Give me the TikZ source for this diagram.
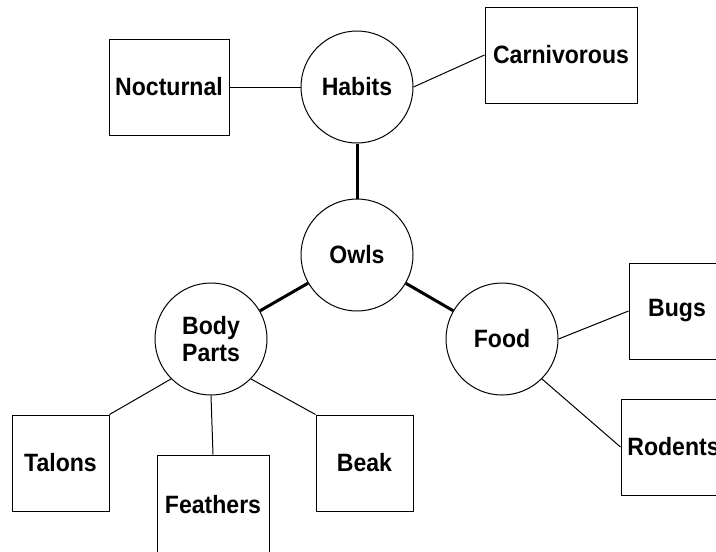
\documentclass[tikz,border=0pt]{standalone}
\usepackage{fontspec}
\setmainfont{Liberation Sans}[FakeStretch=0.92]
\begin{document}
\begin{tikzpicture}[x=0.75pt,y=-0.75pt,
  label font/.style={font=\bfseries\fontsize{18.8}{20.3}\selectfont},
  topic/.style={circle,draw,line width=0.75pt,minimum size=84pt,inner sep=0pt,align=center,label font},
  leaf/.style={rectangle,draw,line width=0.75pt,inner sep=0pt,minimum height=72pt,label font},
  link/.style={line width=0.75pt},
  trunk/.style={line width=2.25pt}]
\useasboundingbox (0,0) rectangle (716,551);
\clip (0,0) rectangle (716,551);

% central topic and its three branches
\node[topic] (owls)   at (357,255) {Owls};
\node[topic] (habits) at (357,87)  {Habits};
\node[topic] (body)   at (211,339) {Body\\Parts};
\node[topic] (food)   at (502,339) {Food};

% leaf boxes
\node[leaf,minimum width=90pt]   (nocturnal) at (169,87)    {Nocturnal};
\node[leaf,minimum width=114pt]  (carn)      at (561,55)    {Carnivorous};
\node[leaf,minimum width=72pt]   (bugs)      at (677,311)   {Bugs};
\node[leaf,minimum width=78.75pt](rodents)   at (673.5,447) {Rodents};
\node[leaf,minimum width=72.75pt](talons)    at (60.5,463)  {Talons};
\node[leaf,minimum width=84pt,minimum height=75pt] (feathers) at (213,505) {Feathers};
\node[leaf,minimum width=72.75pt](beak)      at (364.5,463) {Beak};

% connectors
\draw[trunk] (habits) -- (owls);
\draw[trunk] (owls) -- (body);
\draw[trunk] (owls) -- (food);
\draw[link] (habits) -- (nocturnal);
\draw[link] (habits.east) -- (carn.west);
\draw[link] (food.east) -- (bugs.west);
\draw[link] (food.south east) -- (rodents.west);
\draw[link] (body.south west) -- (talons.north east);
\draw[link] (body.south) -- (feathers.north);
\draw[link] (body.south east) -- (beak.north west);
\end{tikzpicture}
\end{document}
